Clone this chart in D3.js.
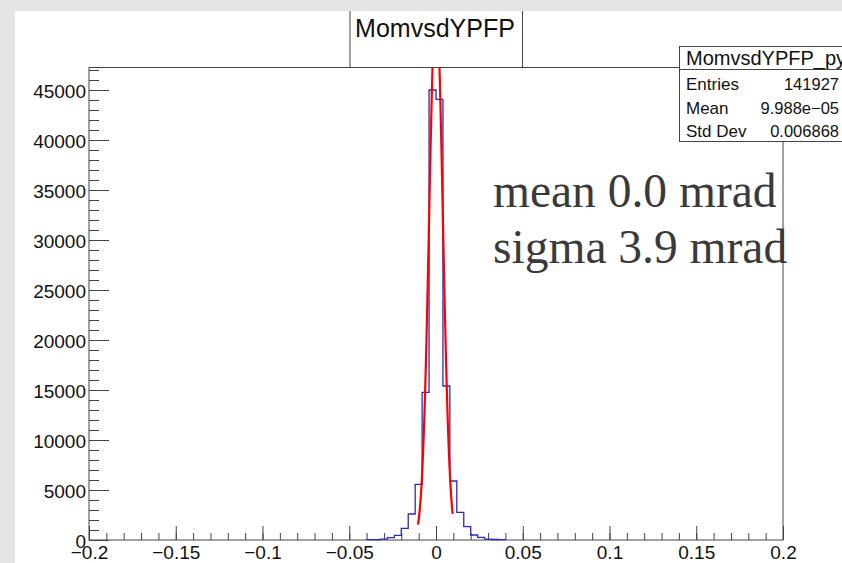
<!DOCTYPE html>
<html lang="en">
<head>
<meta charset="utf-8" />
<title>MomvsdYPFP</title>
<style>
  body { margin: 0; background: #e5e5e5; }
  svg text { font-family: "Liberation Sans", Arial, sans-serif; fill: #111; }
  .big { font-family: "Liberation Serif", "Times New Roman", serif; fill: #3a3a3a; }
</style>
</head>
<body>
<div id="chart"></div>
<script src="https://d3js.org/d3.v7.min.js"></script>
<script>
// histogram bins (lower edge, width 0.004) and counts
var binLo = [-0.040, -0.036, -0.032, -0.028, -0.024, -0.020, -0.016, -0.012, -0.008, -0.004,
              0.000,  0.004,  0.008,  0.012,  0.016,  0.020,  0.024,  0.028,  0.032,  0.036];
var counts = [30, 45, 90, 230, 470, 1170, 2600, 5570, 14770, 45000,
              44070, 15400, 5900, 2770, 1330, 500, 270, 90, 50, 30];
var binW = 0.004;

// gaussian fit parameters
var fitConst = 54000, fitMean = 0.0, fitSigma = 0.0039;
var fitRange = [-0.0104, 0.0096];

var xTicks = [-0.2, -0.15, -0.1, -0.05, 0, 0.05, 0.1, 0.15, 0.2];
var xTickLabels = ["\u22120.2", "\u22120.15", "\u22120.1", "\u22120.05", "0", "0.05", "0.1", "0.15", "0.2"];
var yTicks = [0, 5000, 10000, 15000, 20000, 25000, 30000, 35000, 40000, 45000];
var yTickLabels = ["0", "5000", "10000", "15000", "20000", "25000", "30000", "35000", "40000", "45000"];

var statsNames = ["Entries", "Mean", "Std Dev"];
var statsValues = ["141927", "9.988e\u221205", "0.006868"];
var fitLines = ["mean 0.0 mrad", "sigma 3.9 mrad"];

var W = 842, H = 563;
var frame = {left: 89, right: 783, top: 67.5, bottom: 540};

var svg = d3.select("#chart").append("svg")
    .attr("width", W).attr("height", H);

svg.append("defs").append("clipPath").attr("id", "canvasClip")
   .append("rect").attr("x", 15).attr("y", 11).attr("width", W - 15).attr("height", H - 11);
svg.select("defs").append("clipPath").attr("id", "frameClip")
   .append("rect").attr("x", frame.left).attr("y", frame.top)
   .attr("width", frame.right - frame.left).attr("height", frame.bottom - frame.top);

svg.append("rect").attr("width", W).attr("height", H).attr("fill", "#e5e5e5");

var canvas = svg.append("g").attr("clip-path", "url(#canvasClip)");
canvas.append("rect").attr("x", 15).attr("y", 11).attr("width", W).attr("height", H).attr("fill", "#fff");

var x = d3.scaleLinear().domain([-0.2, 0.2]).range([frame.left, frame.right]);
var y = d3.scaleLinear().domain([0, 1.05 * d3.max(counts)]).range([frame.bottom, frame.top]);

// frame
canvas.append("rect")
  .attr("x", frame.left).attr("y", frame.top)
  .attr("width", frame.right - frame.left).attr("height", frame.bottom - frame.top)
  .attr("fill", "none").attr("stroke", "#444").attr("stroke-width", 1);

// y axis
var yMinor = d3.range(0, y.domain()[1], 1000);
canvas.append("g").attr("transform", "translate(" + frame.left + ",0)")
  .call(d3.axisLeft(y).tickValues(yMinor).tickSize(-10).tickFormat(""))
  .call(function(g) { g.select(".domain").remove(); g.selectAll("line").attr("stroke", "#444"); });
canvas.append("g").attr("transform", "translate(" + frame.left + ",0)")
  .call(d3.axisLeft(y).tickValues(yTicks).tickSize(-20).tickPadding(3)
        .tickFormat(function(d, i) { return yTickLabels[i]; }))
  .call(function(g) {
    g.select(".domain").remove();
    g.selectAll("line").attr("stroke", "#444");
    g.selectAll("text").attr("font-size", 19).attr("fill", "#111")
     .attr("font-family", "'Liberation Sans', Arial, sans-serif").attr("dy", "0.37em");
  });

// x axis
var xMinor = d3.range(-0.2, 0.2001, 0.01);
canvas.append("g").attr("transform", "translate(0," + frame.bottom + ")")
  .call(d3.axisBottom(x).tickValues(xMinor).tickSize(-7).tickFormat(""))
  .call(function(g) { g.select(".domain").remove(); g.selectAll("line").attr("stroke", "#444"); });
canvas.append("g").attr("transform", "translate(0," + frame.bottom + ")")
  .call(d3.axisBottom(x).tickValues(xTicks).tickSize(-14).tickPadding(6)
        .tickFormat(function(d, i) { return xTickLabels[i]; }))
  .call(function(g) {
    g.select(".domain").remove();
    g.selectAll("line").attr("stroke", "#444");
    g.selectAll("text").attr("font-size", 19).attr("fill", "#111")
     .attr("font-family", "'Liberation Sans', Arial, sans-serif").attr("dy", "0.71em");
  });

// histogram outline (steps)
var pts = [[binLo[0], 0]];
binLo.forEach(function(lo, i) {
  pts.push([lo, counts[i]]);
  pts.push([lo + binW, counts[i]]);
});
pts.push([binLo[binLo.length - 1] + binW, 0]);
canvas.append("path")
  .datum(pts)
  .attr("d", d3.line().x(function(d) { return x(d[0]); }).y(function(d) { return y(d[1]); }))
  .attr("fill", "none").attr("stroke", "#2a2ab8").attr("stroke-width", 1.3);

// gaussian fit curve
var nSamp = 100;
var fitPts = d3.range(nSamp + 1).map(function(k) {
  var xv = fitRange[0] + (fitRange[1] - fitRange[0]) * k / nSamp;
  var z = (xv - fitMean) / fitSigma;
  return [xv, fitConst * Math.exp(-0.5 * z * z)];
});
canvas.append("g").attr("clip-path", "url(#frameClip)")
  .append("path").datum(fitPts)
  .attr("d", d3.line().x(function(d) { return x(d[0]); }).y(function(d) { return y(d[1]); }))
  .attr("fill", "none").attr("stroke", "#ff0000").attr("stroke-width", 2.2);

// title box
canvas.append("rect").attr("x", 350).attr("y", 0).attr("width", 172.5).attr("height", frame.top)
  .attr("fill", "#fff").attr("stroke", "#444");
canvas.append("text").attr("x", 435).attr("y", 37).attr("text-anchor", "middle")
  .attr("font-size", 25).text("MomvsdYPFP");

// stats box
var sb = canvas.append("g");
sb.append("rect").attr("x", 679.5).attr("y", 46.5).attr("width", 200).attr("height", 95)
  .attr("fill", "#fff").attr("stroke", "#444");
sb.append("line").attr("x1", 679.5).attr("x2", 880).attr("y1", 69.5).attr("y2", 69.5).attr("stroke", "#444");
sb.append("text").attr("x", 686).attr("y", 65).attr("font-size", 20).text("MomvsdYPFP_py");
var rowY = [89.5, 114, 136.5];
statsNames.forEach(function(n, i) {
  sb.append("text").attr("x", 686).attr("y", rowY[i]).attr("font-size", 17).text(n);
  sb.append("text").attr("x", 839).attr("y", rowY[i]).attr("font-size", 16.5)
    .attr("text-anchor", "end").text(statsValues[i]);
});

// fit result text
var fy = [207, 263];
fitLines.forEach(function(t, i) {
  canvas.append("text").attr("class", "big").attr("x", 493).attr("y", fy[i])
    .attr("font-size", 47.5).text(t);
});
</script>
</body>
</html>
